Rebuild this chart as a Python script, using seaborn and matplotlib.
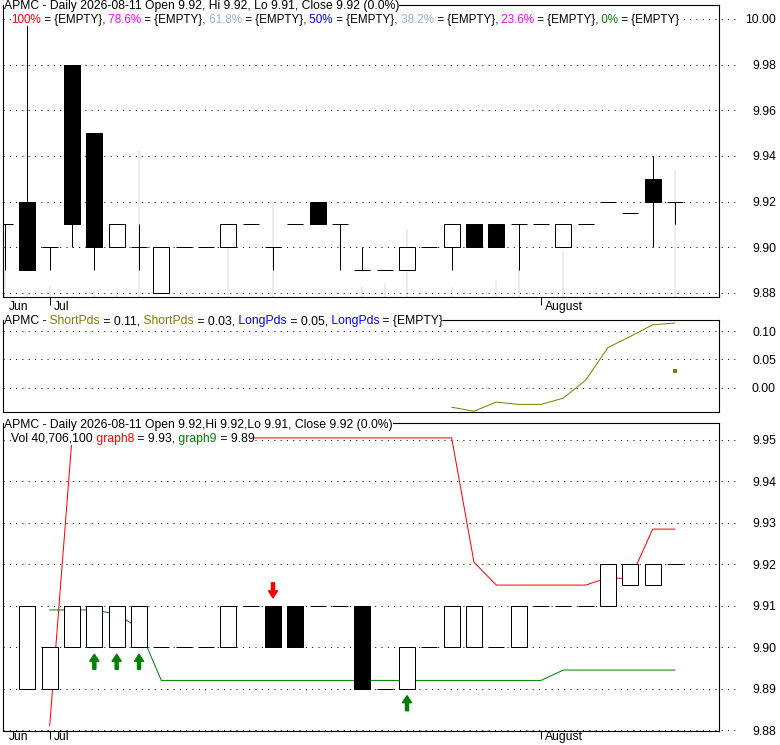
import numpy as np
import pandas as pd
import seaborn as sns
import matplotlib
matplotlib.use("Agg")
import matplotlib.pyplot as plt
from matplotlib import transforms
from matplotlib.offsetbox import TextArea, HPacker, AnchoredOffsetbox

nan = np.nan

# trading days on the chart (Jul 3 was a market holiday)
dates = pd.bdate_range("2026-06-29", "2026-08-11").drop(pd.Timestamp("2026-07-03"))
month_names = ["Jun", "Jul", "August"]

# daily bars, upper pane
bar_open = [9.91, 9.92, 9.90, 9.98, 9.95, 9.90, 9.90, 9.88, 9.90, 9.90,
            9.90, 9.91, 9.90, 9.91, 9.92, 9.91, 9.89, 9.89, 9.89, 9.90,
            9.90, 9.91, 9.91, 9.91, 9.91, 9.90, 9.91, 9.92, 9.915, 9.93, 9.92]
bar_high = [9.91, 10.00, 9.90, 9.98, 9.95, 9.91, 9.91, 9.90, 9.90, 9.90,
            9.91, 9.91, 9.90, 9.91, 9.92, 9.91, 9.90, 9.89, 9.90, 9.90,
            9.91, 9.91, 9.91, 9.91, 9.91, 9.91, 9.91, 9.92, 9.915, 9.94, 9.92]
bar_low = [9.89, 9.89, 9.89, 9.90, 9.89, 9.90, 9.89, 9.88, 9.90, 9.90,
           9.90, 9.91, 9.89, 9.91, 9.91, 9.89, 9.89, 9.89, 9.89, 9.90,
           9.89, 9.90, 9.90, 9.89, 9.91, 9.90, 9.91, 9.92, 9.915, 9.90, 9.91]
bar_close = [9.91, 9.89, 9.90, 9.91, 9.90, 9.91, 9.90, 9.90, 9.90, 9.90,
             9.91, 9.91, 9.90, 9.91, 9.91, 9.91, 9.89, 9.89, 9.90, 9.90,
             9.91, 9.90, 9.90, 9.91, 9.91, 9.91, 9.91, 9.92, 9.915, 9.92, 9.92]

# volume in millions of shares
volume_m = [8.7, 1.6, 3.8, 0.3, 2.2, 2.6, 46.8, 0, 0, 0,
            16.0, 0, 29.8, 0, 0, 0, 3.2, 4.5, 21.8, 0,
            3.2, 0, 5.4, 9.3, 0, 14.4, 0, 1.3, 0, 0, 40.7061]

# lower pane bodies
body_open = [nan, 9.89, 9.89, 9.90, 9.90, 9.90, 9.90, 9.90, 9.90, 9.90,
             9.90, 9.91, 9.91, 9.91, 9.91, 9.91, 9.91, 9.89, 9.89, 9.90,
             9.90, 9.90, 9.90, 9.90, 9.91, 9.91, 9.91, 9.91, 9.915, 9.915, 9.92]
body_close = [nan, 9.91, 9.90, 9.91, 9.91, 9.91, 9.91, 9.90, 9.90, 9.90,
              9.91, 9.91, 9.90, 9.90, 9.91, 9.91, 9.89, 9.89, 9.90, 9.90,
              9.91, 9.91, 9.90, 9.91, 9.91, 9.91, 9.91, 9.92, 9.92, 9.92, 9.92]

graph8 = [nan, nan, 9.881, 9.9505, 9.9505, 9.9505, 9.9505, 9.9505, 9.9505, 9.9505,
          9.9505, 9.9505, 9.9505, 9.9505, 9.9505, 9.9505, 9.9505, 9.9505, 9.9505, 9.9505,
          9.9505, 9.9205, 9.915, 9.915, 9.915, 9.915, 9.915, 9.9168, 9.9165, 9.9285, 9.9285]
graph9 = [nan, nan, 9.909, 9.909, 9.909, 9.908, 9.9046, 9.892, 9.892, 9.892,
          9.892, 9.892, 9.892, 9.892, 9.892, 9.892, 9.892, 9.892, 9.892, 9.892,
          9.892, 9.892, 9.892, 9.892, 9.892, 9.8945, 9.8945, 9.8945, 9.8945, 9.8945, 9.8945]

buy_days = [5, 6, 7, 19]
sell_days = [13]

# middle pane
short_pds = [nan, nan, nan, nan, nan, nan, nan, nan, nan, nan,
             nan, nan, nan, nan, nan, nan, nan, nan, nan, nan,
             -0.034, -0.041, -0.025, -0.029, -0.029, -0.018, 0.0136, 0.071, 0.0905, 0.111, 0.114]
short_pds_2 = [nan] * 30 + [0.0295]
long_pds = 0.05

fib_levels = ["100%", "78.6%", "61.8%", "50%", "38.2%", "23.6%", "0%"]
fib_colors = ["#ff0000", "#ff00ff", "#98b0d8", "#0000ff", "#98b0d8", "#ff00ff", "#008000"]

top_ticks = [9.88, 9.90, 9.92, 9.94, 9.96, 9.98, 10.00]
mid_ticks = [0.00, 0.05, 0.10]
bot_ticks = [9.88, 9.89, 9.90, 9.91, 9.92, 9.93, 9.94, 9.95]

W, H = 780, 745
FS = 8.7
LW = 0.72
DOTS = (0, (1, 5.3))
OLIVE = "#808000"

sns.set_style("white")
plt.rcParams["font.family"] = ["Liberation Sans", "DejaVu Sans"]

fig = plt.figure(figsize=(W / 100, H / 100), dpi=100, facecolor="white")


def frame(left, top, right, bottom):
    return fig.add_axes([left / W, 1 - bottom / H, (right - left) / W, (bottom - top) / H])


ax_top = frame(3, 5, 719, 297)
ax_mid = frame(3, 320, 719, 412)
ax_bot = frame(3, 423, 719, 731)

x = np.arange(1, len(dates) + 1)
xlim = (0.91, 32.97)

# volume behind the price bars
ax_vol = ax_top.twinx()
ax_vol.bar(x, volume_m, width=0.09, color="#ececec", linewidth=0)
ax_vol.set_ylim(0, 93.6)
ax_vol.set_xlim(*xlim)
ax_vol.axis("off")
ax_top.set_zorder(ax_vol.get_zorder() + 1)
ax_top.patch.set_visible(False)


def candles(ax, o, c, hi=None, lo=None):
    o = np.asarray(o, float)
    c = np.asarray(c, float)
    ok = ~np.isnan(o)
    if hi is not None:
        ax.vlines(x[ok], np.asarray(lo)[ok], np.asarray(hi)[ok], color="black", lw=LW, zorder=3)
    face = np.where(c < o, "black", "white")[ok]
    ax.bar(x[ok], np.abs(c - o)[ok], bottom=np.minimum(o, c)[ok], width=0.72,
           color=face, edgecolor="black", linewidth=LW, zorder=4)


def y_axis(ax, ticks, lim):
    ax.set_xlim(*xlim)
    ax.set_ylim(*lim)
    ax.yaxis.tick_right()
    ax.set_yticks(ticks, [f"{t:.2f}" for t in ticks])
    ax.tick_params(axis="y", length=0, pad=41, labelsize=FS, colors="black")
    for lab in ax.get_yticklabels():
        lab.set_horizontalalignment("right")
    for t in ticks:
        ax.axhline(t, xmax=1.027, color="black", lw=LW, ls=DOTS, clip_on=False, zorder=1)
    for s in ax.spines.values():
        s.set_color("black")
        s.set_linewidth(0.8)
        s.set_visible(True)


candles(ax_top, bar_open, bar_close, bar_high, bar_low)
y_axis(ax_top, top_ticks, (9.8782, 10.0061))

sns.lineplot(x=x, y=short_pds, ax=ax_mid, color=OLIVE, lw=LW, estimator=None)
sns.scatterplot(x=x, y=short_pds_2, ax=ax_mid, color=OLIVE, marker="s", s=5, linewidth=0)
y_axis(ax_mid, mid_ticks, (-0.0424, 0.1194))
ax_mid.set_xticks([])

sns.lineplot(x=x, y=graph8, ax=ax_bot, color="#ff0000", lw=LW, estimator=None, zorder=2)
sns.lineplot(x=x, y=graph9, ax=ax_bot, color="#008000", lw=LW, estimator=None, zorder=2)
candles(ax_bot, body_open, body_close)
y_axis(ax_bot, bot_ticks, (9.8798, 9.9541))

# buy / sell arrows
below = transforms.offset_copy(ax_bot.transData, fig=fig, y=-7, units="dots")
above = transforms.offset_copy(ax_bot.transData, fig=fig, y=8, units="dots")
for d in buy_days:
    lo = min(body_open[d - 1], body_close[d - 1])
    ax_bot.annotate("", xy=(d, lo), xycoords=below, xytext=(0, -10.8), textcoords="offset points",
                    arrowprops=dict(color="#008000", width=2.2, headwidth=6.5, headlength=5, shrink=0))
for d in sell_days:
    hi = max(body_open[d - 1], body_close[d - 1])
    ax_bot.annotate("", xy=(d, hi), xycoords=above, xytext=(0, 10.8), textcoords="offset points",
                    arrowprops=dict(color="#ff0000", width=2.2, headwidth=6.5, headlength=5, shrink=0))

# month ticks
pos = pd.Series(x, index=dates)
month_start = pos.groupby(dates.to_period("M")).min().tolist()
shift = transforms.ScaledTranslation(4 / 100, 0, fig.dpi_scale_trans)
for ax, pad in ((ax_top, -2.8), (ax_bot, -5.6)):
    ax.set_xticks(month_start, month_names)
    ax.tick_params(axis="x", direction="out", length=5.8, width=LW, color="black",
                   pad=pad, labelsize=FS, labelcolor="black", bottom=True)
    ax.xaxis.get_major_ticks()[0].tick1line.set_visible(False)
    for lab in ax.get_xticklabels():
        lab.set_horizontalalignment("left")
        lab.set_transform(lab.get_transform() + shift)


def header(x_px, y_px, parts, size=FS):
    areas = [TextArea(s, textprops=dict(color=c, fontsize=size)) for s, c in parts]
    row = HPacker(children=areas, align="baseline", pad=0, sep=0)
    box = AnchoredOffsetbox(loc="center left", child=row, pad=0, borderpad=0, frameon=True,
                            bbox_to_anchor=(x_px / W, 1 - y_px / H),
                            bbox_transform=fig.transFigure)
    box.patch.set_facecolor("white")
    box.patch.set_edgecolor("none")
    box.set_zorder(10)
    fig.add_artist(box)


chg = (bar_close[-1] - bar_close[-2]) / bar_close[-2] * 100
day = dates[-1].strftime("%Y-%m-%d")
o, h, l, c = bar_open[-1], bar_high[-1], bar_low[-1], bar_close[-1]

header(4, 6, [(f"APMC - Daily {day} Open {o:.2f}, Hi {h:.2f}, Lo {l:.2f}, Close {c:.2f} ({chg:.1f}%)", "black")])
fib_parts = []
for i, (lvl, col) in enumerate(zip(fib_levels, fib_colors)):
    fib_parts.append(((" " if i else "") + lvl, col))
    fib_parts.append((" = {EMPTY}" + ("," if i < len(fib_levels) - 1 else ""), "black"))
header(11, 20, fib_parts, size=8.4)

header(4, 321, [("APMC -", "black"), (" ShortPds", OLIVE), (f" = {short_pds[-1]:.2f},", "black"),
                (" ShortPds", OLIVE), (f" = {short_pds_2[-1]:.2f},", "black"),
                (" LongPds", "#0000ff"), (f" = {long_pds:.2f},", "black"),
                (" LongPds", "#0000ff"), (" = {EMPTY}", "black")])

header(4, 425, [(f"APMC - Daily {day} Open {o:.2f},Hi {h:.2f},Lo {l:.2f}, Close {c:.2f} ({chg:.1f}%)", "black")])
header(11, 439, [(f"Vol {int(round(volume_m[-1] * 1e6)):,}", "black"), (" graph8", "#ff0000"),
                 (f" = {graph8[-1]:.2f},", "black"), (" graph9", "#008000"),
                 (f" = {graph9[-1]:.2f}", "black")])

fig.savefig("out.png", dpi=100, facecolor="white")
